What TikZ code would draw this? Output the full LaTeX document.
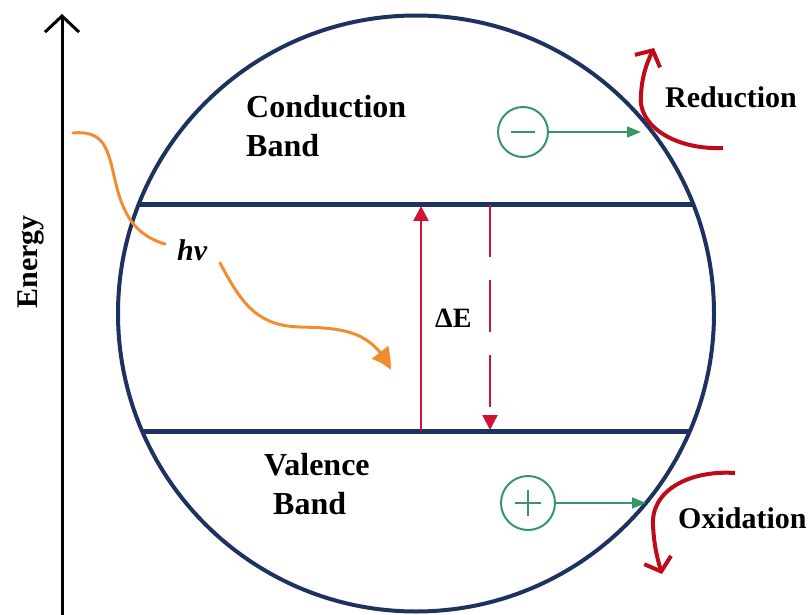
\documentclass[tikz,border=0pt]{standalone}
\usepackage{fontspec}
\setmainfont{Liberation Serif}
\usetikzlibrary{arrows.meta,bending}
\definecolor{navy}{RGB}{30,50,95}
\definecolor{dered}{RGB}{205,20,50}
\definecolor{crim}{RGB}{190,10,25}
\definecolor{orng}{RGB}{242,140,50}
\definecolor{grn}{RGB}{55,150,105}
\begin{document}
\begin{tikzpicture}[x=1pt,y=-1pt,
  lbl/.style={font=\fontsize{32}{38}\selectfont\bfseries, inner sep=0pt, anchor=base west},
  sidelbl/.style={font=\fontsize{30}{36}\selectfont\bfseries, inner sep=0pt, anchor=base west},
  bandline/.style={navy, line width=5pt},
  gaparrow/.style={dered, line width=2.5pt, -{Triangle[length=15pt,width=15pt]}},
  photon/.style={orng, line width=3pt, line cap=round},
  greenarrow/.style={grn, line width=1.6pt, -{Triangle[length=14pt,width=11pt]}},
  charge/.style={circle, draw=grn, line width=2pt, inner sep=0pt},
  redox/.style={crim, line width=4pt, -{Straight Barb[length=12pt,width=28pt]}}
]
\useasboundingbox (0,0) rectangle (812,615);

% energy axis
\coordinate (ebot) at (62,615);
\coordinate (etop) at (62,14);
\draw[line width=3pt, -{Straight Barb[length=16pt,width=34pt]}] (ebot) -- (etop);
\node[rotate=90, font=\fontsize{30}{36}\selectfont\bfseries, inner sep=0pt] (energy) at (31,262) {Energy};

% semiconductor particle
\node[circle, draw=navy, line width=4pt, minimum size=596pt, inner sep=0pt, outer sep=0pt] (sc) at (416,313.5) {};

% band edges
\coordinate (cbL) at (138,205);
\coordinate (cbR) at (694,205);
\coordinate (vbL) at (141,431);
\coordinate (vbR) at (691,431);
\draw[bandline] (cbL) -- (cbR);
\draw[bandline] (vbL) -- (vbR);

% labels
\node[lbl] (condA) at (246,118) {Conduction};
\node[lbl] (condB) at (246,157) {Band};
\node[lbl] (valA) at (264,475) {Valence};
\node[lbl] (valB) at (273,514) {Band};
\node[sidelbl] (red) at (665,108) {Reduction};
\node[sidelbl] (ox) at (678,528) {Oxidation};
\node[font=\fontsize{30}{36}\selectfont\bfseries\itshape, inner sep=0pt, anchor=base west] (hv) at (177,261) {hv};
\node[font=\fontsize{28}{34}\selectfont\bfseries, inner sep=0pt, anchor=base west] (dE) at (435,327) {ΔE};

% band gap arrows
\coordinate (upB) at (421,431);
\coordinate (upT) at (421,206);
\coordinate (dnT) at (490,205);
\coordinate (dnB) at (490,430);
\draw[gaparrow] (upB) -- (upT);
\draw[gaparrow, dash pattern=on 52pt off 23pt] (dnT) -- (dnB);

% photon
\coordinate (ph1s) at (73,133);
\coordinate (ph1e) at (165,244);
\coordinate (ph2s) at (220,263);
\coordinate (ph2e) at (391,370);
\draw[photon] (ph1s) .. controls (105,130) and (108,150) .. (115,180)
  .. controls (123,215) and (135,235) .. (ph1e);
\draw[photon, -{Triangle[length=22pt,width=20pt,bend]}] (ph2s) .. controls (240,300) and (255,326) .. (300,327)
  .. controls (342,328) and (372,330) .. (ph2e);

% charges
\node[charge, minimum size=50pt] (minus) at (523,132) {};
\draw[grn, line width=2pt] ([xshift=-12pt]minus.center) -- ([xshift=12pt]minus.center);
\node[charge, minimum size=54pt] (plus) at (528,503) {};
\draw[grn, line width=2pt] ([xshift=-13pt]plus.center) -- ([xshift=13pt]plus.center);
\draw[grn, line width=2pt] ([yshift=-13pt]plus.center) -- ([yshift=13pt]plus.center);

\coordinate (eTip) at (641,132);
\coordinate (hTip) at (646,503);
\draw[greenarrow] (minus.east) -- (eTip);
\draw[greenarrow] (plus.east) -- (hTip);

% redox arrows
\coordinate (rs) at (723,148);
\coordinate (re) at (654,48);
\draw[redox] (rs) .. controls (674,150) and (637,125) .. (641,95)
  .. controls (642,75) and (647,62) .. (re);
\coordinate (os) at (735,473);
\coordinate (oe) at (662,574);
\draw[redox] (os) .. controls (690,470) and (651,490) .. (653,525)
  .. controls (654,545) and (657,558) .. (oe);
\end{tikzpicture}
\end{document}
